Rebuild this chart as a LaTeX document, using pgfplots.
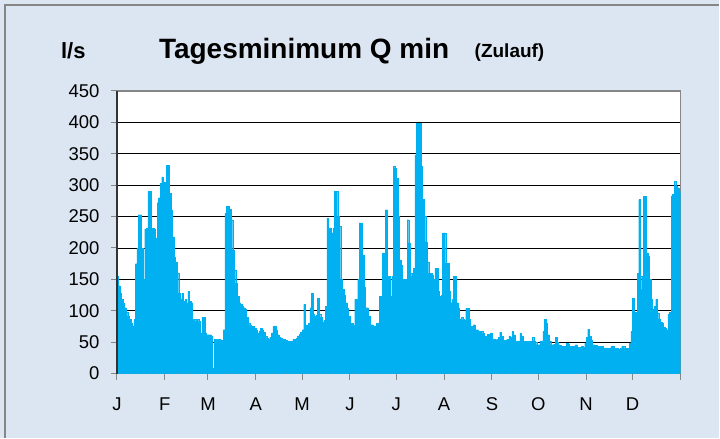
\documentclass[border=0pt]{standalone}
\usepackage{pgfplots}
\pgfplotsset{compat=1.18}
\usepackage{pgfplotstable}
\usepackage{fontspec}
\setmainfont{Liberation Sans}
\definecolor{bg}{HTML}{DCE6F2}
\definecolor{barc}{HTML}{00B0F0}
\definecolor{frm}{HTML}{868686}

% daily minimum inflow (l/s), day 1 .. 365
\pgfplotstableread[row sep=\\]{
q\\
155\\140\\128\\118\\112\\105\\98\\92\\86\\80\\76\\86\\175\\200\\253\\253\\200\\150\\230\\232\\290\\290\\150\\232\\230\\216\\272\\280\\303\\313\\305\\
303\\332\\332\\287\\261\\218\\186\\178\\160\\128\\118\\128\\115\\118\\113\\131\\115\\113\\86\\86\\83\\86\\83\\65\\90\\90\\65\\62\\
62\\62\\60\\8\\55\\55\\55\\55\\54\\35\\70\\255\\266\\266\\262\\245\\197\\165\\144\\123\\113\\110\\107\\105\\102\\90\\81\\77\\76\\75\\72\\
70\\64\\68\\72\\70\\66\\60\\57\\55\\58\\65\\75\\76\\70\\62\\58\\57\\55\\55\\53\\52\\52\\51\\52\\55\\55\\56\\60\\63\\66\\
70\\110\\78\\76\\80\\105\\128\\95\\92\\93\\120\\95\\90\\82\\85\\107\\247\\232\\232\\224\\232\\290\\290\\250\\234\\150\\134\\125\\113\\105\\92\\
80\\80\\77\\118\\118\\150\\240\\240\\189\\137\\105\\105\\92\\78\\78\\76\\76\\80\\80\\123\\123\\192\\150\\261\\155\\155\\123\\155\\330\\327\\
311\\250\\181\\172\\150\\145\\150\\245\\208\\160\\155\\168\\348\\398\\398\\398\\330\\277\\250\\210\\178\\160\\160\\156\\150\\168\\168\\131\\123\\125\\224\\
224\\176\\176\\131\\113\\118\\155\\155\\113\\105\\87\\90\\86\\85\\104\\104\\86\\75\\75\\78\\70\\70\\68\\67\\67\\64\\60\\60\\63\\60\\65\\
54\\55\\54\\55\\58\\66\\60\\52\\53\\54\\55\\60\\58\\67\\62\\52\\51\\52\\65\\60\\51\\51\\50\\51\\50\\52\\58\\52\\50\\46\\
46\\52\\52\\67\\86\\80\\62\\52\\46\\46\\47\\58\\50\\46\\45\\43\\43\\44\\48\\47\\43\\43\\43\\44\\46\\42\\42\\42\\43\\42\\48\\
58\\71\\60\\54\\46\\46\\45\\43\\43\\42\\43\\41\\41\\41\\40\\41\\43\\44\\40\\40\\40\\39\\40\\44\\43\\40\\40\\38\\48\\67\\
120\\93\\98\\160\\277\\155\\134\\282\\282\\192\\187\\150\\118\\102\\107\\118\\97\\87\\82\\80\\74\\72\\70\\94\\98\\283\\285\\306\\298\\296\\290\\
}\qdata

\begin{document}
\begin{tikzpicture}[x=1bp,y=1bp]
\fill[bg] (0,0) rectangle (720,438);
\draw[frm, line width=1.5bp] (5,0) -- (5,433) -- (720,433);
\begin{axis}[
  at={(117bp,64bp)}, anchor=south west,
  width=564bp, height=283bp, scale only axis,
  xmin=0, xmax=365, ymin=0, ymax=450,
  ytick={0,50,...,450},
  xtick={0,31,59,90,120,151,181,212,243,273,304,334,365},
  xticklabels={J,F,M,A,M,J,J,A,S,O,N,D,},
  tick pos=left,
  tick align=outside,
  major tick length=6bp,
  tick style={frm, line width=1bp},
  ymajorgrids,
  major grid style={black, line width=0.7bp},
  axis line style={frm, line width=1.3bp},
  axis background/.style={fill=white},
  /pgf/number format/assume math mode=true,
  ticklabel style={font=\fontsize{18.5bp}{22bp}\selectfont},
  yticklabel style={xshift=-8bp},
  xticklabel style={yshift=-14bp, anchor=north, text height=13.5bp, text depth=0bp},
]
\addplot[ybar, bar width=1, fill=barc, draw=barc, line width=0.2bp]
  table[x expr=\coordindex+0.5, y=q]{\qdata};
\end{axis}
\draw[black!80, line width=1.3bp] (117,64) -- (117,347);
\node[anchor=base west, font=\fontsize{22bp}{26bp}\selectfont\bfseries, inner sep=0] at (61,379) {l/s};
\node[anchor=base west, font=\fontsize{28bp}{33bp}\selectfont\bfseries, inner sep=0] at (159,379) {Tagesminimum Q min};
\node[anchor=base west, font=\fontsize{19bp}{23bp}\selectfont\bfseries, inner sep=0] at (475,380) {(Zulauf)};
\end{tikzpicture}
\end{document}
